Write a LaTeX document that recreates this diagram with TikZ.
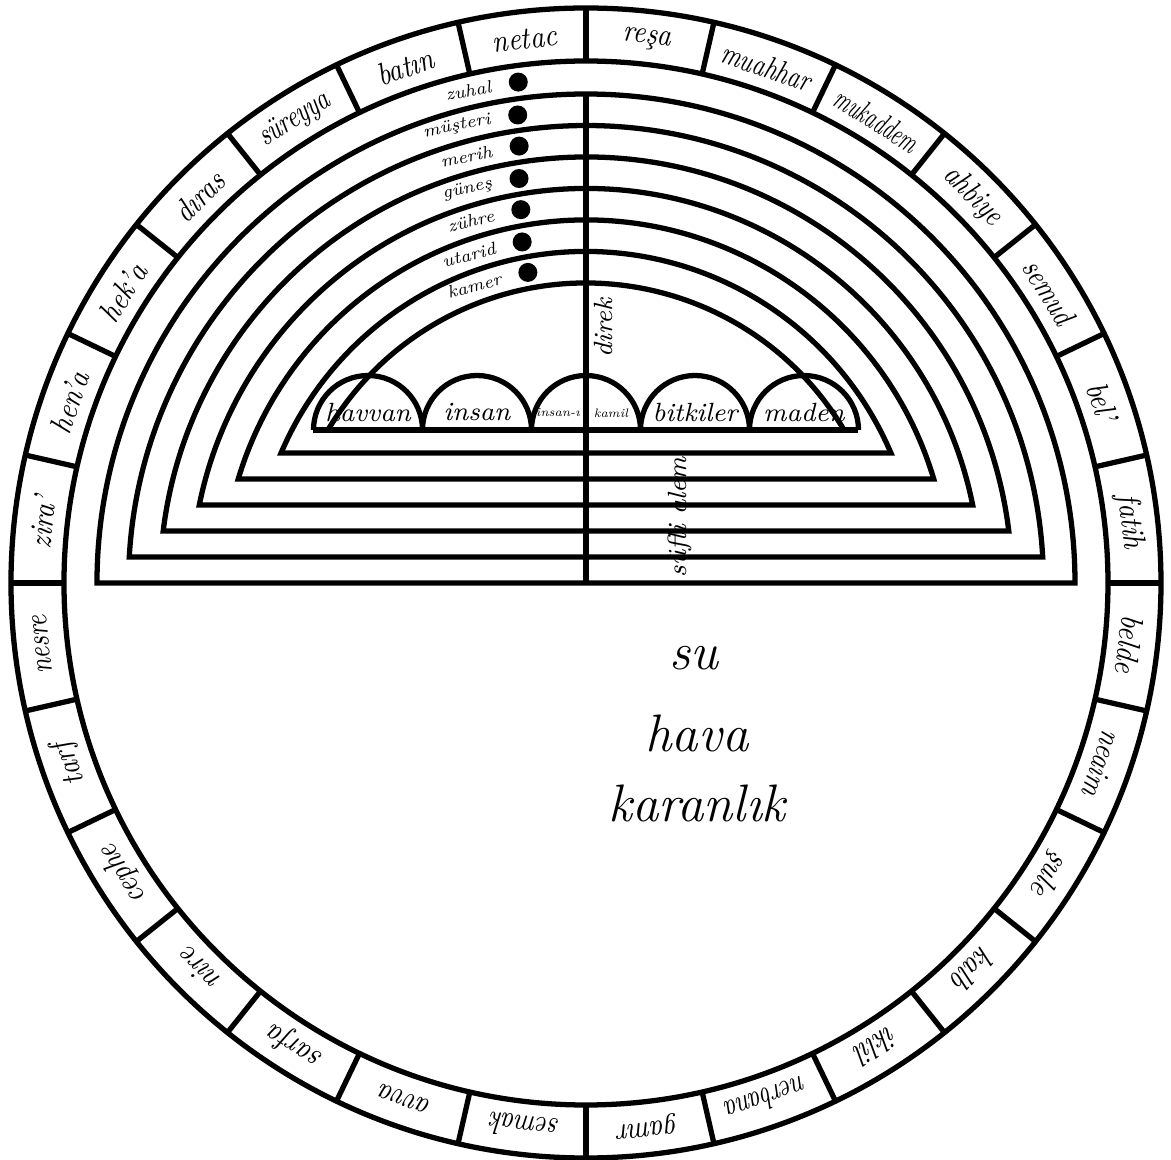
\documentclass[tikz,border=0pt]{standalone}
\usepackage{fontspec}
\usepackage{tikz}
\newcommand{\squeeze}[2]{\scalebox{#1}[1]{#2}}
\tikzset{
  ringline/.style={line width=1.5pt},
  ringlabel/.style={font=\fontsize{9}{10}\selectfont\itshape, inner sep=0pt},
  planetdot/.style={circle, fill=black, minimum size=0.19cm, inner sep=0pt},
  planetlabel/.style={font=\fontsize{5}{6}\selectfont\itshape, inner sep=0pt, anchor=east},
  kingdom/.style={font=\fontsize{7.5}{8}\selectfont\itshape, inner sep=0pt},
  tinylabel/.style={font=\fontsize{3.5}{4}\selectfont\itshape, inner sep=0pt},
  axislabel/.style={font=\fontsize{7.5}{8}\selectfont\itshape, inner sep=0pt, rotate=90},
  bigword/.style={font=\fontsize{15}{17}\selectfont\itshape, inner sep=0pt},
}

\begin{document}
\begin{tikzpicture}[ringline]
  \useasboundingbox (-5.86,-5.77) rectangle (5.85,5.83);
  % ring of the 28 mansions
  \draw (0,0) circle (5.75);
  \draw (0,0) circle (5.22);
  \foreach \i in {0,...,27}
    \draw ({90-\i*360/28}:5.22) -- ({90-\i*360/28}:5.75);
  \foreach \mname/\mw [count=\i] in {reşa/.85, muahhar/.75, mukaddem/.62, ahbiye/.8, semud/.8,
      bel'/.85, fatih/.85, belde/.85, neaim/.8, şule/.85, kalb/.85, iklil/.85, nerbana/.75,
      gamr/.85, semak/.8, avva/.85, sarfa/.85, nire/.85, cephe/.85, tarf/.85, nesre/.8,
      zira'/.85, hen'a/.85, hek'a/.85, dıras/.85, süreyya/.75, batın/.85, netac/.85}
    \node[ringlabel, rotate={-(\i-0.5)*360/28}] (m\i) at ({90-(\i-0.5)*360/28}:5.47) {\squeeze{\mw}{\mname}};

  % nested spheres
  \foreach \rad/\b in {3.00/1.53, 3.315/1.30, 3.63/1.04, 3.945/0.78, 4.26/0.52, 4.575/0.26, 4.89/0.0}
    \draw ({asin(\b/\rad)}:\rad) arc[start angle={asin(\b/\rad)}, end angle={180-asin(\b/\rad)}, radius=\rad] -- cycle;
  \draw (-2.725,1.53) -- (2.725,1.53);
  \draw (0,0) -- (0,4.89);

  % planets
  \foreach \pname/\rad/\a [count=\i] in {zuhal/5.055/97.7, müşteri/4.73/98.3, merih/4.42/98.7,
      güneş/4.10/99.4, zühre/3.79/99.9, utarid/3.47/100.6, kamer/3.16/100.6} {
    \node[planetdot] (dot\i) at (\a:\rad) {};
    \node[planetlabel, rotate={\a+14.3/\rad-90}] (pl\i) at ({\a+14.3/\rad}:\rad) {\pname};
  }

  % kingdoms
  \foreach \x in {-2.18,-1.09,0,1.09,2.18}
    \draw (\x-0.545,1.53) arc[start angle=180, end angle=0, radius=0.545];
  \node[kingdom] (havvan) at (-2.18,1.71) {havvan};
  \node[kingdom] (insan) at (-1.09,1.71) {insan};
  \node[tinylabel] (insani) at (-0.28,1.70) {insan-ı};
  \node[tinylabel] (kamil) at (0.25,1.70) {kamil};
  \node[kingdom] (bitkiler) at (1.09,1.71) {bitkiler};
  \node[kingdom] (maden) at (2.18,1.71) {maden};

  \node[axislabel] (direk) at (0.17,2.55) {direk};
  \node[axislabel] (sufli) at (0.94,0.66) {süfli alem};

  \node[bigword] (su) at (1.08,-0.75) {su};
  \node[bigword] (hava) at (1.11,-1.50) {hava};
  \node[bigword] (karanlik) at (1.11,-2.20) {karanlık};
\end{tikzpicture}
\end{document}
